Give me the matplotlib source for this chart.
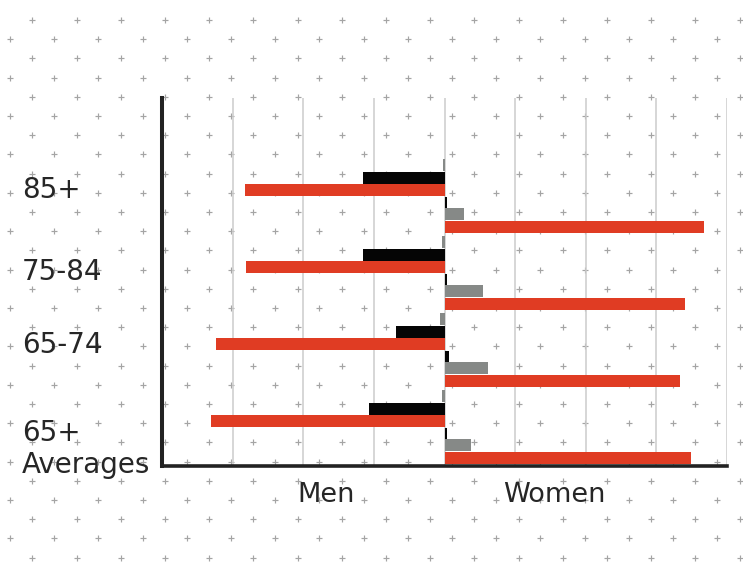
import numpy as np
import matplotlib
matplotlib.use("Agg")
import matplotlib.pyplot as plt
from matplotlib.transforms import blended_transform_factory

# ---- data ----
groups = ["85+", "75-84", "65-74", "65+\nAverages"]
men_gray = [-0.2, -0.3, -0.6, -0.3]
men_black = [-11.6, -11.6, -6.8, -10.7]
men_red = [-28.3, -28.1, -32.4, -33.1]
women_black = [0.3, 0.3, 0.6, 0.3]
women_gray = [2.8, 5.5, 6.2, 3.8]
women_red = [36.7, 34.1, 33.3, 34.9]
side_labels = ["Men", "Women"]
side_label_x = [-16.8, 15.6]

# ---- style ----
RED = "#E03C23"
BLACK = "#050505"
GRAY = "#868987"
TEXT = "#262626"
FONT = ["DejaVu Sans"]

W, H = 743, 563
fig = plt.figure(figsize=(W / 100, H / 100), dpi=100)

# background plus pattern
bg = fig.add_axes([0, 0, 1, 1], zorder=0)
bg.set_xlim(0, W)
bg.set_ylim(H, 0)
bg.axis("off")
xs, ys = [], []
for k in range(30):
    y = 20 + 19.2 * k
    x0 = 32.3 if k % 2 == 0 else 10.0
    for j in range(18):
        x = x0 + 44.2 * j
        if x < W + 5 and y < H + 5:
            xs.append(x)
            ys.append(y)
bg.plot(xs, ys, linestyle="none", marker="+", markersize=5.0,
        markeredgewidth=0.85, color="#a4a4a4")

# main axes
left, right, top, bottom = 162, 727, 98, 466
ax = fig.add_axes([left / W, 1 - bottom / H, (right - left) / W, (bottom - top) / H],
                  zorder=1)
ax.set_facecolor("none")

unit = 77.0  # px per group
offsets = np.array([6, 18.5, 30.5, 44, 55, 68]) / unit
bar_h = 12.0 / unit
gpos = np.arange(len(groups))

series = [(men_gray, GRAY), (men_black, BLACK), (men_red, RED),
          (women_black, BLACK), (women_gray, GRAY), (women_red, RED)]
for (vals, col), off in zip(series, offsets):
    ax.barh(gpos + off, vals, height=bar_h, color=col, zorder=3, linewidth=0)

ax.set_xlim(-40, 40)
ax.set_ylim((bottom - 159) / unit, (top - 159) / unit)

for gx in [-30, -20, -10, 0, 10, 20, 30, 40]:
    ax.axvline(gx, color="#cccccc", linewidth=1.1, zorder=1)

ax.set_xticks([])
ax.set_yticks([])
for s in ["top", "right"]:
    ax.spines[s].set_visible(False)
ax.spines["left"].set_linewidth(2.9)
ax.spines["left"].set_color("#222222")
ax.spines["bottom"].set_linewidth(2.6)
ax.spines["bottom"].set_color("#222222")

# group labels
label_off = [0.40, 0.47, 0.42, 0.77]
tr = blended_transform_factory(fig.transFigure, ax.transData)
for g, lab, lo in zip(gpos, groups, label_off):
    fig.text(22 / W, g + lo, lab, transform=tr, ha="left", va="center",
             fontsize=20, color=TEXT, family=FONT, linespacing=1.2)

# side labels
trs = blended_transform_factory(ax.transData, fig.transFigure)
for lab, x in zip(side_labels, side_label_x):
    fig.text(x, 1 - 495 / H, lab, transform=trs, ha="center", va="center",
             fontsize=19.5, color=TEXT, family=FONT)

fig.savefig("out.png", dpi=100)
